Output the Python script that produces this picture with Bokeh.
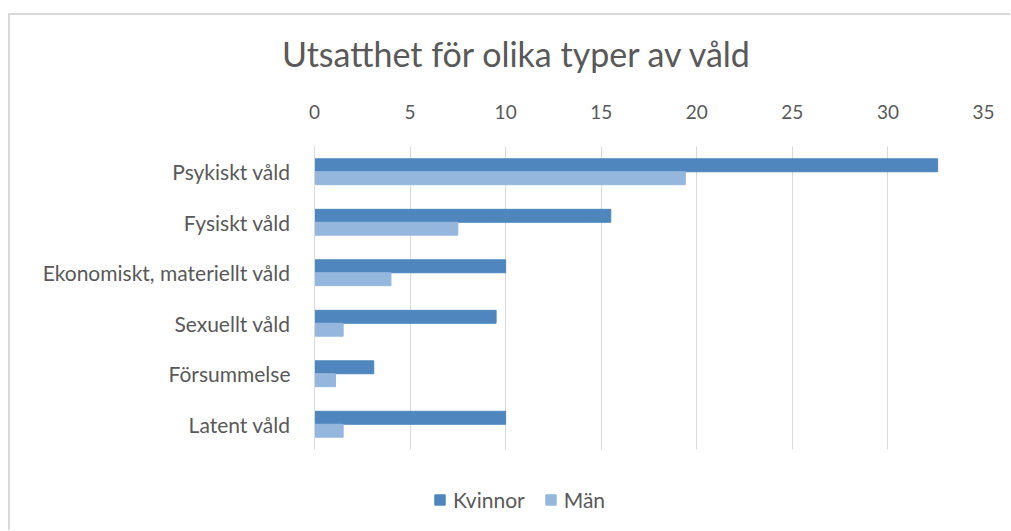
from bokeh.plotting import figure
from bokeh.models import Legend, LegendItem, FactorRange, Div
from bokeh.layouts import column
from bokeh.transform import dodge
from bokeh.embed import file_html
from bokeh.resources import INLINE

title_text = "Utsatthet för olika typer av våld"
categories = ["Psykiskt våld", "Fysiskt våld", "Ekonomiskt, materiellt våld",
              "Sexuellt våld", "Försummelse", "Latent våld"]
kvinnor = [32.6, 15.5, 10.0, 9.5, 3.1, 10.0]
man = [19.4, 7.5, 4.0, 1.5, 1.1, 1.5]
x_ticks = [0, 5, 10, 15, 20, 25, 30, 35]
series_names = ["Kvinnor", "Män"]

TEXT = "#595959"
FONT = "Lato"
C_K = "#4e86bd"
C_M = "#95b7de"

# chart title
title = Div(width=1000, height=60, margin=0,
            text=(f'<div style="margin-top:19px;margin-left:272px;white-space:nowrap;'
                  f'font-family:{FONT};font-size:34px;line-height:40px;color:{TEXT};">'
                  f'{title_text}</div>'))

p = figure(width=1000, height=385,
           y_range=FactorRange(factors=list(reversed(categories))),
           x_range=(0, 35), x_axis_location="above",
           output_backend="svg", toolbar_location=None,
           min_border_left=304, min_border_right=27,
           min_border_top=71, min_border_bottom=11)
p.outline_line_color = None

src = dict(cat=categories, k=kvinnor, m=man)
p.hbar(y=dodge("cat", 0.128, range=p.y_range), right="k", left=0, height=0.256,
       source=src, fill_color=C_K, line_color=C_K)
p.hbar(y=dodge("cat", -0.128, range=p.y_range), right="m", left=0, height=0.256,
       source=src, fill_color=C_M, line_color=C_M)

xa = p.xaxis[0]
xa.ticker = x_ticks
xa.axis_line_color = None
xa.major_tick_line_color = None
xa.minor_tick_line_color = None
xa.major_label_standoff = 22
xa.major_label_text_font = FONT
xa.major_label_text_font_size = "19px"
xa.major_label_text_color = TEXT

ya = p.yaxis[0]
ya.axis_line_color = "#d9d9d9"
ya.major_tick_line_color = None
ya.minor_tick_line_color = None
ya.major_label_standoff = 18
ya.major_label_text_font = FONT
ya.major_label_text_font_size = "21px"
ya.major_label_text_color = TEXT

p.xgrid.grid_line_color = "#d9d9d9"
p.xgrid.ticker = x_ticks
p.ygrid.grid_line_color = None

# legend strip below the chart (frames are aligned with the chart above)
pl = figure(width=1000, height=70, x_range=(0, 1), y_range=(0, 1),
            output_backend="svg", toolbar_location=None,
            min_border=0)
pl.axis.visible = False
pl.grid.grid_line_color = None
pl.outline_line_color = None
# zero-size swatch renderers, outside the visible range, only for the legend
lk = pl.hbar(y=[-1], right=[0], left=0, height=0.1, fill_color=C_K, line_color=C_K)
lm = pl.hbar(y=[-1], right=[0], left=0, height=0.1, fill_color=C_M, line_color=C_M)
legend = Legend(items=[LegendItem(label=series_names[0], renderers=[lk]),
                       LegendItem(label=series_names[1], renderers=[lm])],
                orientation="horizontal", location=(119, 18),
                glyph_width=13, glyph_height=13, label_standoff=7, spacing=19,
                padding=0, margin=0, border_line_color=None,
                label_text_font=FONT, label_text_font_size="21px",
                label_text_color=TEXT, background_fill_alpha=0)
pl.add_layout(legend)

layout = column(title, p, pl, spacing=0,
                styles={"border-left": "2px solid #d9d9d9",
                        "border-top": "2px solid #d9d9d9",
                        "margin-left": "8px", "margin-top": "13px"})

open("out.html", "w").write(file_html(layout, INLINE))
